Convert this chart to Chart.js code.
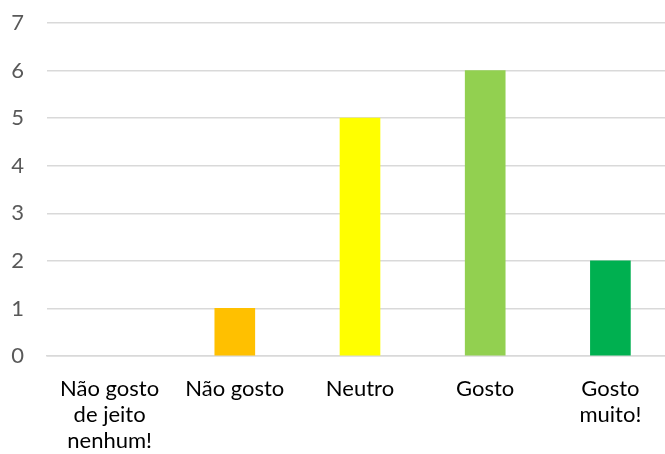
<!DOCTYPE html>
<html>
<head>
<meta charset="utf-8">
<script src="https://cdn.jsdelivr.net/npm/chart.js@4"></script>
<style>
  html, body { margin: 0; padding: 0; background: #fff; overflow: hidden; }
  #wrap { width: 673px; height: 454px; position: relative; }
</style>
</head>
<body>
<div id="wrap"><canvas id="chart"></canvas></div>
<script>
const categories = [
  ['Não gosto', 'de jeito', 'nenhum!'],
  'Não gosto',
  'Neutro',
  'Gosto',
  ['Gosto', 'muito!']
];
const values = [0, 1, 5, 6, 2];
const barColors = ['rgba(0,0,0,0)', '#FFC000', '#FFFF00', '#92D050', '#00B050'];
const yTicks = [0, 1, 2, 3, 4, 5, 6, 7];

const gridColor = '#d9d9d9';
const labelFont = { family: 'Lato', size: 22, lineHeight: '26px' };

new Chart(document.getElementById('chart'), {
  type: 'bar',
  data: {
    labels: categories,
    datasets: [{
      data: values,
      backgroundColor: barColors,
      borderWidth: 0,
      barThickness: 40
    }]
  },
  options: {
    responsive: true,
    maintainAspectRatio: false,
    animation: false,
    layout: { padding: { top: 23, left: 11, right: 0, bottom: 0 } },
    scales: {
      x: {
        grid: { display: false },
        border: { display: true, color: gridColor, width: 1.5 },
        afterFit: (axis) => {
          axis.height = 98;
          axis.paddingLeft = 0;
          axis.paddingRight = 0;
        },
        ticks: {
          color: '#000',
          font: labelFont,
          padding: 12,
          maxRotation: 0,
          autoSkip: false
        }
      },
      y: {
        min: yTicks[0],
        max: yTicks[yTicks.length - 1],
        border: { display: false },
        grid: { color: gridColor, lineWidth: 1.5, drawTicks: false },
        afterBuildTicks: (axis) => { axis.ticks = yTicks.map(v => ({ value: v })); },
        afterFit: (axis) => {
          axis.width = 36;
          axis.paddingTop = 0;
          axis.paddingBottom = 0;
        },
        ticks: {
          color: '#595959',
          font: labelFont,
          padding: 23
        }
      }
    },
    plugins: {
      legend: { display: false },
      tooltip: { enabled: false }
    }
  }
});
</script>
</body>
</html>
